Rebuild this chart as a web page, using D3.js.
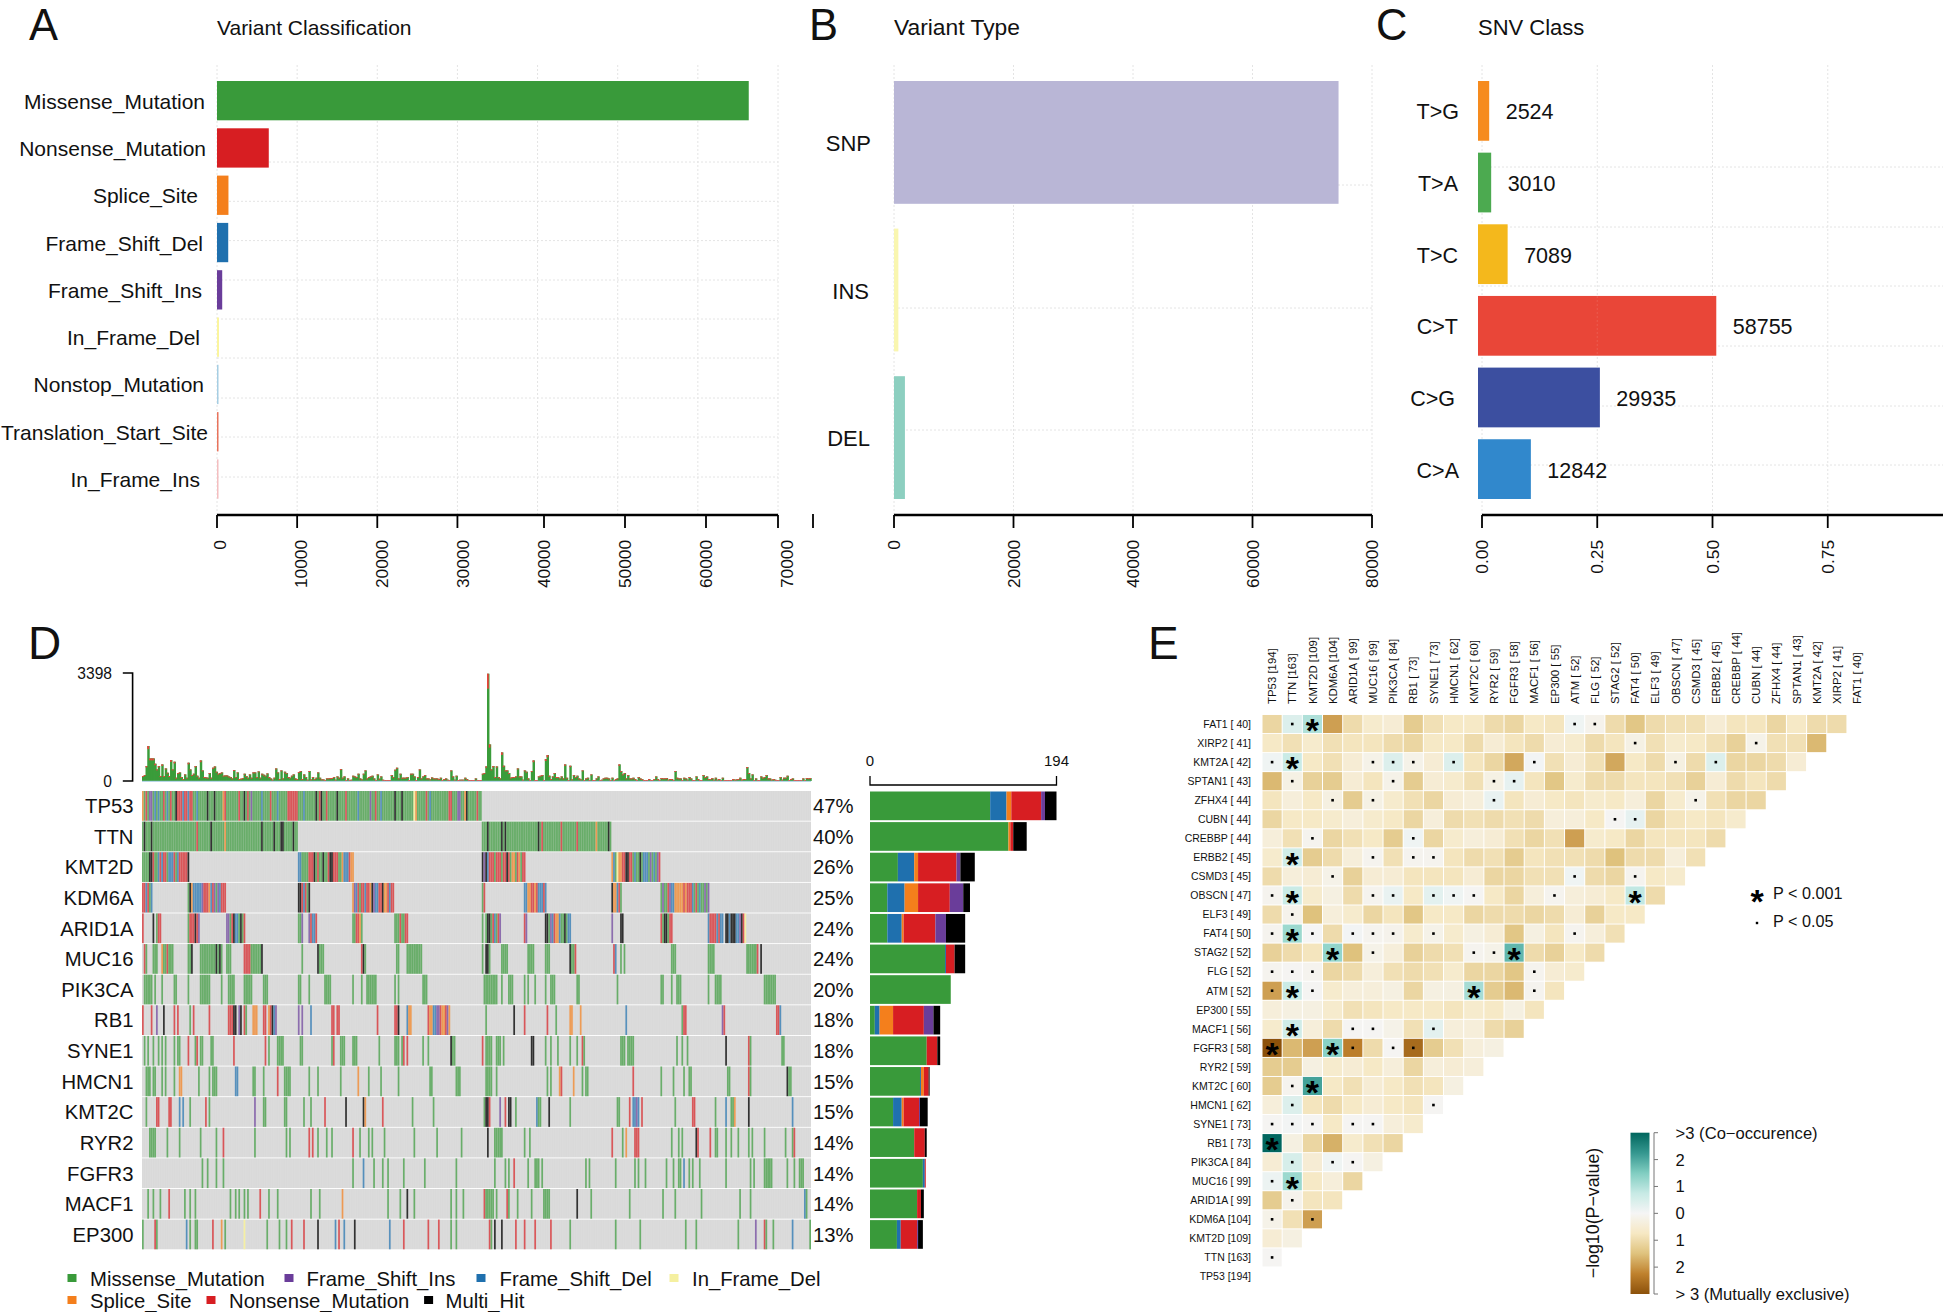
<!DOCTYPE html>
<html><head><meta charset="utf-8">
<script src="https://cdn.jsdelivr.net/npm/d3@7"></script>
<style>
html,body{margin:0;padding:0;background:#fff}
svg{display:block}
text{font-family:"Liberation Sans",Arial,sans-serif;fill:#111}
</style></head><body><svg id="c" width="1946" height="1312"></svg>
<script>
/* ---------- A: variant classification ---------- */
const classNames=["Missense_Mutation","Nonsense_Mutation","Splice_Site","Frame_Shift_Del","Frame_Shift_Ins","In_Frame_Del","Nonstop_Mutation","Translation_Start_Site","In_Frame_Ins"];
const classValues=[66350,6460,1430,1400,650,250,130,130,100];
const classTicks=[0,10000,20000,30000,40000,50000,60000,70000];
/* ---------- B: variant type ---------- */
const typeNames=["SNP","INS","DEL"];
const typeValues=[74400,730,1830];
const typeTicks=[0,20000,40000,60000,80000];
/* ---------- C: SNV class ---------- */
const snvNames=["T>G","T>A","T>C","C>T","C>G","C>A"];
const snvCounts=[2524,3010,7089,58755,29935,12842];
const snvFractions=[0.0221,0.0264,0.0621,0.5147,0.2622,0.1125];
const snvTicks=[0,0.25,0.5,0.75];
/* ---------- D: oncoplot ---------- */
const onco_genes=["TP53","TTN","KMT2D","KDM6A","ARID1A","MUC16","PIK3CA","RB1","SYNE1","HMCN1","KMT2C","RYR2","FGFR3","MACF1","EP300"];
const onco_pct=["47%","40%","26%","25%","24%","24%","20%","18%","18%","15%","15%","14%","14%","14%","13%"];
const sampleCount=382;
/* sample burden, read in zoom pixels, 324 of them = 3398 mutations */
const burdenRead=[15,18,45,105,68,68,68,52,35,45,15,50,15,38,25,15,63,35,58,10,24,26,12,6,20,10,55,35,18,22,45,16,10,62,32,12,11,10,24,10,40,44,28,22,24,26,16,17,17,14,12,8,33,12,26,6,7,9,22,15,10,20,10,26,26,12,29,10,22,19,16,23,12,8,4,10,38,26,6,32,8,28,24,12,10,16,20,8,6,27,30,6,20,12,4,30,5,12,6,10,26,10,5,5,3,8,8,9,9,12,4,14,10,36,10,14,3,8,3,4,16,14,12,22,8,5,22,32,8,12,14,16,8,3,20,7,14,4,3,3,3,3,18,12,34,40,8,22,10,10,10,12,3,22,22,14,3,12,35,8,14,18,8,8,5,11,8,8,8,6,10,3,6,8,4,3,32,14,4,16,3,4,4,4,10,6,3,3,3,3,
8,3,3,3,22,24,44,322,110,35,45,12,44,12,8,86,46,32,32,24,10,12,12,14,38,14,14,4,32,28,8,3,30,62,3,3,14,16,18,3,66,78,16,6,14,24,12,12,8,14,8,50,10,3,46,5,18,12,16,8,5,32,3,8,10,3,20,3,3,8,14,3,4,8,10,10,8,3,10,3,6,8,50,30,20,24,8,18,8,8,10,6,3,12,8,6,3,3,3,6,3,3,6,14,6,3,9,8,8,9,4,6,6,3,30,10,8,8,3,10,8,4,12,8,3,3,14,6,3,3,18,12,14,6,6,9,4,10,4,6,3,10,3,3,3,3,3,6,4,5,6,10,4,6,6,42,24,8,20,3,8,3,3,14,10,12,18,8,8,4,6,4,3,3,12,4,10,10,16,3,6,8,3,3,3,3,3,8,3,9,8,9];
const burdenMax=3398;
/* cells per gene: type letter + sample index or index range; later entries overwrite earlier ones.
   M missense, N nonsense, S splice, D frameshift del, I frameshift ins, F in-frame del, H multi-hit */
const row_TP53="M0-193 S0 N2 I4-5 D7 D9 N12 D14 N16 H19 N20-22 D23 N24-25 D26 N27-28 D31 H37 H41 S46 N47 N55 H58 N60 I62 D68 N73 D77 N83-88 D92 H99 N101 H102 N105 H111 N116 D123 I130 N133 D136 H144 H148 F155 S156 N162 D164 N175-176 I180-181 S184 H185 N191";
const row_TTN="M0-88 H1 H5 N31 H39 S47 H68 H75 H79-80 H86 M194-267 H197 H205 H207 H226 N228 N239 N248 S259 H266";
const row_KMT2D="M0-26 H4-5 N6 D9 N10 D11 N12-13 D15-17 N18 D20 N21-25 H26 M89-120 D89-90 N95-97 H98 N100 H103 N106 H107-108 N109-111 S114 D115-117 N118 S119-120 M194-218 H194 I195 H196 D197 N198-200 N202-204 N206-207 H208 N209 S211-212 N214 S215 N217-218 M268-295 S268 D269 F271 S272-273 N274-275 H276-277 N278-279 D281 H284 D286-288 I290 D292 I294 N295";
const row_KDM6A="N0-1 D2 N3 M4 D5 M26 H27 S28 D29-33 I34 N35-37 S38 D39 N40 I41 M42 I43 D44 N45-47 H89-90 N91 D92 N93 M94 H95 M120-143 S120 I121 D122 N123 N125-126 D127 N128-129 S130 H131 I132 D133-134 N135-136 H137 S138-139 N140 D141 N142-143 M194 N195 D218-219 S220-221 N222-223 S224 N225 D226-228 N229 D230 H268 S269-270 D271 N272 M273 M296-323 I297 N300 I301 D302-303 S304-308 N309 S310 N311-313 D314 N316 D318 I321 I323";
const row_ARID1A="N0 H6 M8 N9-10 M26 N27-29 H30 N31 I32 I48-49 M50 N51 H52 D53-54 M55 H56 M57 N58 M89-90 I91 I95 N96 D97-98 N99 M120-121 N122-123 S124 M125 M144-146 N147 M148-149 N150-151 M194 M196 H197-198 M199 N200 D201 M202 N203 I204 N218 I219 H230-231 M232 I233 D234 N235 S236-237 D238 M239 M240 H241 M242 D243-244 I268 H273-274 N296 M297 H298-299 M300 N301-302 D323 N324-327 D328 N329 D330-331 H333-334 D335 H336-338 D339-340 I341 H342 N343 F344";
const row_MUC16="N1 M2 M6-8 S11 M12-17 N14 M26-27 H28 M33-45 H42 H44 M48-50 N58-61 M62-67 H68 M91 H100 M101-103 N125 H126 M127 M145-146 M151-159 M194 H196-197 M198 M205-208 M220-223 M230-232 H244 M245-246 N247 N269 D270 M273 M275 M302-304 M323-326 M345-350 N351 H353";
const row_PIK3CA="M1-5 M7 M11 M18-19 M26 M33-38 M45 M49 M50-52 M58-62 M69-71 M89-90 M95 M104-107 M120 M125 M128-133 M144 M146 M160-162 M195-202 M205 M209-211 M218 M220 M224 M230 M233-235 M248-249 M271 M296-297 M302 M305-307 M323 M327-330 M355-361";
const row_RB1="N0 N5 I8 H12 N18 N20 M27 N29 N38 N49-50 N51 H52-53 I55 H56 N58 M59 S63-65 N69-70 S72 N73 H74 D75 I76 I89 I91 D96 N108-109 N111-112 N134 N144-145 H146 D151 S152-153 N163 S164-165 D166-167 I168-169 N170 S171-172 N173 I174 S175 M196 H212 N218 N231 M236 S244-245 S250 D276 M308 N309-310 I331 N332 N362-363 D364";
const row_SYNE1="M1 M3 M6 M9 M11 M13 M18 M20-21 N26 M30 N31 M33-34 M39-40 N52 N70 M72 M77-80 M90-91 M108 N109 M113-115 M120-122 M135 M144-146 M148 N149 N151 M160 M163 H176 M177-178 N194 M196-199 M202-204 M206 H222-223 M230 M233 M237 M244 M248 N251 M252 M273-275 M277-280 M305 M308 M311 H333 N346 M347 M365-366";
const row_HMCN1="M2-4 M6-7 M11 M13 M18 S21-22 M32 M38 M40-42 D53-54 M63-64 M69 N77 M81-84 M95 M100 M113 S123 M129 M136 M146 M164-165 M179-181 M196-199 M202 M231 M233 S238 N239 M246 S246 M251 M253-254 N280 M296 M303 M309 M312-313 M334-335 N346 M347 H368 M369-370";
const row_KMT2C="M2 N8 N9 N15-16 D21 D23 M27 N36 M38 I64 M69-70 M81-82 M92 M96 N104 H116 H126 S127 N137 M154 M166 M195 H196-197 N198 I204 N207 H209-210 M213 D225 M226-227 H232 M244 M271-272 N278 D280-281 I282 D283 N285 M304 N314-315 M327 D333 M336-337 S338 H346 D371";
const row_RYR2="M4-7 M14 M21 M33 M42 N46 M64 M82 M84 N95 N97 M100 M105 M108 N120 M124 M129 M131 M138 M155 M168 M182 H197 M201 M202-204 M205 M218 M221 N268 M274 S276 N281-283 M302 M306 M308 H316 N317 N324 M327-328 M333 M336 M340 M346 M348 M355 M367 M371 N372";
const row_FGFR3="M34 M37 M42 M46 M120 D126 M132 M137 M140 M149 M161 M179 M201 M207 M209 N212 M220 M224-226 M228 M253 M255 M270 M281 M283 M287 M299 M303 M306 M307 D309 M312 M314 M318 M333 M347 M349 M355-359 M368 M372 M375-377";
const row_MACF1="M3 M6 M10 N15 M24 M27 M30 M50 M53 M55 M58 M60 N67 M72 M77 M96 M101 S114 M140 M147 H151 M155 M176 M179 M183 N195 M196-200 M202 N208 M209 M214 M222 M229-232 H248 M256 M278 M297 M304 M319 M341 M347 D378 M379";
const row_EP300="M0 N7 M8 D25 M27 M30-31 N40 S45 M47 F58 M71 M78 M82 N85 N92 H100 D110 N112 D115 H121 D141 N149 N163 N169 M176 M179 N198 M199 H201 H205 N213 N218 N224 N233 M244 M270 M284 M310 M316 M340 I350 N355 M356 M360 D371 M381";
const onco_rows=[row_TP53,row_TTN,row_KMT2D,row_KDM6A,row_ARID1A,row_MUC16,row_PIK3CA,row_RB1,row_SYNE1,row_HMCN1,row_KMT2C,row_RYR2,row_FGFR3,row_MACF1,row_EP300];
/* gene totals by type, in stacking order */
const stackOrder=["M","D","S","N","I","H"];
const stack_TP53=[125,17,5,31,4,12], stack_TTN=[144,0,2,3,0,14], stack_KMT2D=[29,17,4,40,4,15], stack_KDM6A=[18,18,14,33,14,7], stack_ARID1A=[18,15,2,33,11,20], stack_MUC16=[78,1,0,9,0,11], stack_PIK3CA=[84,0,0,0,0,0], stack_RB1=[5,5,14,32,10,7], stack_SYNE1=[59,0,0,11,0,3], stack_HMCN1=[52,1,3,5,0,1], stack_KMT2C=[24,9,2,16,1,8], stack_RYR2=[46,0,0,11,0,2], stack_FGFR3=[55,2,0,1,0,0], stack_MACF1=[49,0,0,4,0,3], stack_EP300=[28,4,0,17,1,5];
const stacks=[stack_TP53,stack_TTN,stack_KMT2D,stack_KDM6A,stack_ARID1A,stack_MUC16,stack_PIK3CA,stack_RB1,stack_SYNE1,stack_HMCN1,stack_KMT2C,stack_RYR2,stack_FGFR3,stack_MACF1,stack_EP300];
const stackMax=194;
/* ---------- E: somatic interactions ---------- */
const heatColumns=["TP53 [194]","TTN [163]","KMT2D [109]","KDM6A [104]","ARID1A [ 99]","MUC16 [ 99]","PIK3CA [ 84]","RB1 [ 73]","SYNE1 [ 73]","HMCN1 [ 62]","KMT2C [ 60]","RYR2 [ 59]","FGFR3 [ 58]","MACF1 [ 56]","EP300 [ 55]","ATM [ 52]","FLG [ 52]","STAG2 [ 52]","FAT4 [ 50]","ELF3 [ 49]","OBSCN [ 47]","CSMD3 [ 45]","ERBB2 [ 45]","CREBBP [ 44]","CUBN [ 44]","ZFHX4 [ 44]","SPTAN1 [ 43]","KMT2A [ 42]","XIRP2 [ 41]","FAT1 [ 40]"];
const heatRows=heatColumns.slice().reverse();
/* signed -log10(P): positive co-occurrence, negative mutual exclusivity; top row first */
const heatValues=[
[-1.1,.4,1.0,-1.9,-1,-.6,-.5,-1.3,-.9,-.7,-.7,-1,-1.1,-.7,-.8,.1,-.15,-1,-1.4,-1,-.9,-.9,-.5,-.8,-.8,-1.1,-.7,-1,-1],
[-.7,-.9,-.6,-.9,-.8,-.8,-1,-1.1,-.7,-.7,-1,-.5,-.8,-1,-.5,-.6,-1,-.8,-.25,-.9,-.6,-.7,-.9,-1.2,-.2,-.9,-.9,-1.6],
[.1,.7,-.7,-.9,-.5,-.2,.4,-.2,-.5,.4,-.8,-1.1,-1.8,.05,-.9,-.5,-.9,-1.8,-.7,-1,-.3,-1,.4,-1.1,-1.1,-1,-.5],
[-1.6,-.25,-1.2,-1.3,-.5,-.8,-.2,-1.3,-.5,-.6,-.9,-.25,.25,-.8,-1.4,-.6,-1,-1,-.8,-.8,-.9,-1.2,-.5,-1,-.8,-1],
[-.8,-.4,-.7,-.3,-1.3,-.25,-.6,-.9,-1.1,-.5,-.4,.2,-.8,-.5,-.7,-.8,-.6,-.7,-.4,-1.1,-.6,-.2,-.9,-1.1,-1.1],
[-1.1,-.7,-.7,-.6,-.4,-.6,-.7,-1.1,-.4,-1,-.9,-1,-.9,-1,-.4,-.4,-.7,-.05,.25,-1.1,-.8,-.7,-.8,-.6],
[-.4,-.9,-.1,-1.1,-.9,-.7,-1.3,.1,-1.1,-.6,-.4,-.5,-.9,-1.1,-.9,-1.9,-.6,-.7,-1.1,-.8,-.8,-.8,-1],
[-.6,.6,-1.3,-1,-.4,-.1,-.9,-.1,-.1,-.8,-1,-.9,-1.3,-.8,-.9,-.9,-1,-1.5,-1,-1,-.4,-.9],
[-1,-.4,-.5,-.2,-1.2,-.5,-.5,-.8,-.8,-.8,-.5,-1.1,-1.1,-.9,-.9,.1,-1,-1.1,-.1,-.7,-.6],
[-.1,.7,-.6,-.3,-1,-.1,.2,-.7,.3,.1,-.05,-.7,-1.1,-.4,-.1,-.4,-.5,-.7,.8,-1],
[-1,-.15,-1.5,-.4,-.6,-1.1,-.8,-1.4,-.7,-.7,-1.1,-1,-1,-1.1,-1,-.5,-1.2,-.7,-.7],
[-.1,1.2,0,-1,.05,-.1,-.15,-.6,-.2,-.6,-.3,-.5,-1.4,-.3,-.8,-.1,-.4,-.9],
[-1.2,-1,-.8,1.3,-1.5,-.2,-.4,-1.2,-1,-.9,-.1,-.2,1.8,-1,-1.2,-.7,-1],
[-.1,-.05,-.1,-1.1,-1,-.4,-.9,-1,-.9,-.6,-1.1,-1.1,-1.4,-.1,-.5,-.6],
[-1.9,.7,-.05,-.6,-.4,-.4,-.3,-1.1,-.3,-.3,1.1,-1.3,-1.6,-.1,-.8],
[-.4,-.3,-.3,-.6,-.9,-.8,-.7,-.7,-.7,-.8,-.6,-.7,-.3,-.8],
[-.6,.6,-.4,-1,-.05,-.05,-.2,-.9,.3,-.4,-.4,-1,-1.2],
[-3,-1.6,-1.9,1.4,-2.3,-1,-.05,-2.6,-1.3,-.9,-.4,-.3],
[-1.3,-1.3,-.3,-.6,-.5,-.7,-.4,-1.1,-.4,-.5,-.4],
[-1.3,-.1,2.1,-.7,-.9,-.5,-.7,-.9,-.8,-.3],
[-.4,.4,-.8,-1,-.7,-.5,-.7,-.8,-.05],
[-.05,.05,-.05,-.7,-.05,-.05,-.4,-.6],
[3,-.3,-1.1,-1.7,-.6,-.9,-1.1],
[-.5,.5,-.5,.1,-.05,-.3],
[.15,1.2,-.7,-.4,-1.1],
[-1.3,-.15,-.8,-.8],
[-.2,-.9,-1.9],
[-.5,-.3],
[-.05]];
/* [row index, column indexes] */
const starCells=[[0,[2]],[2,[1]],[7,[1]],[9,[1,18]],[11,[1]],[12,[3,12]],[14,[1,10]],[16,[1]],[17,[0,3]],[19,[2]],[22,[0]],[24,[1]]];
const dotCells=[[0,[1,15,16]],[1,[18,24]],[2,[0,5,6,7,9,13,20,22]],[3,[1,6,11,12]],[4,[3,5,11,21]],[5,[17,18]],[6,[2,7]],[7,[5,7,8]],[8,[3,15,18]],[9,[0,5,6,8,9,10,14]],[10,[1]],[11,[0,2,4,5,6,8,15]],[12,[5,10,11]],[13,[0,1,2,13]],[14,[0,2,13]],[16,[4,5,8]],[17,[4,6,7]],[19,[1]],[20,[1,8]],[21,[0,1,2,4,5]],[23,[1,3,4]],[24,[0]],[25,[1]],[26,[0,2]],[28,[0]]];
const heatLegendLabels=[">3 (Co\u2212occurence)","2","1","0","1","2","> 3 (Mutually exclusive)"];
const heatLegendValues=[3,2,1,0,-1,-2,-3];

const variantColors={Missense_Mutation:"#399A3A",Nonsense_Mutation:"#D71E22",Splice_Site:"#F47F1C",Frame_Shift_Del:"#1F70AE",Frame_Shift_Ins:"#6A3D9A",In_Frame_Del:"#FBF59E",Nonstop_Mutation:"#A6CEE3",Translation_Start_Site:"#E8735C",In_Frame_Ins:"#F4BEC0"};
const typeColors=["#B9B6D6","#F9F6B0","#8DCFC0"];
const snvColors=["#F68B1E","#4CAA50","#F4B81C","#E94638","#3C4FA0","#3188CC"];
const cellColors={M:"#399A3A",N:"#D71E22",S:"#F47F1C",D:"#1F70AE",I:"#6A3D9A",F:"#FFF68A",H:"#000000"};

const svg=d3.select("#c");
const grid="#e4e4e4";

function letter(t,x,y,fs){svg.append("text").attr("x",x).attr("y",y).attr("font-size",fs).text(t);}
function title(t,x,fs){svg.append("text").attr("x",x).attr("y",35).attr("font-size",fs).text(t);}
function vgrid(g,xs){g.selectAll(null).data(xs).join("line").attr("x1",d=>d).attr("x2",d=>d).attr("y1",65).attr("y2",515).attr("stroke",grid).attr("stroke-dasharray","2 2");}
function hgrid(g,ys,x1,x2){g.selectAll(null).data(ys).join("line").attr("x1",x1).attr("x2",x2).attr("y1",d=>d).attr("y2",d=>d).attr("stroke",grid).attr("stroke-dasharray","2 2");}
function hAxis(x1,x2,tickXs,labels){
  const g=svg.append("g");
  g.append("line").attr("x1",x1).attr("x2",x2).attr("y1",515).attr("y2",515).attr("stroke","#000").attr("stroke-width",2.6);
  g.selectAll("line.t").data(tickXs).join("line").attr("class","t").attr("x1",d=>d).attr("x2",d=>d).attr("y1",515).attr("y2",528).attr("stroke","#000").attr("stroke-width",1.8);
  g.selectAll("text").data(labels).join("text").attr("text-anchor","end").attr("font-size",17.3).attr("dy",".36em")
    .attr("transform",d=>`translate(${d.x},540) rotate(-90)`).text(d=>d.t);
}

/* ---- A ---- */
letter("A",29,39.5,43.5);title("Variant Classification",217,21);
const xA=d3.scaleLinear().domain([0,70000]).range([217,778]);
const xALab=d3.scaleLinear().domain([0,70000]).range([220,787]);
const yA=d3.scaleBand().domain(classNames).range([81,498.7]).paddingInner(.169).paddingOuter(0);
const gA=svg.append("g");
vgrid(gA,classTicks.map(xA));
hgrid(gA,[162,201.3,240.6,280,319,358,398,437,477],217,778);
gA.selectAll("rect").data(classNames).join("rect").attr("x",xA(0)).attr("y",d=>yA(d)).attr("height",yA.bandwidth())
  .attr("width",(d,i)=>Math.max(1.5,xA(classValues[i])-xA(0))).attr("fill",d=>variantColors[d]);
const classLabelEnd=[205,206,198,203,202,200,204,208,200];
gA.selectAll("text").data(classNames).join("text").attr("text-anchor","end").attr("font-size",21)
  .attr("x",(d,i)=>classLabelEnd[i]).attr("y",d=>yA(d)+yA.bandwidth()/2).attr("dy",".38em").text(d=>d);
hAxis(217,778,classTicks.map(v=>(v>=40000&&v<70000)?xALab(v):xA(v)),classTicks.map(v=>({x:xALab(v),t:v})));

/* ---- B ---- */
letter("B",809,39.5,43.5);title("Variant Type",894,22.8);
const xB=d3.scaleLinear().domain([0,80000]).range([894,1372]);
const yB=d3.scaleBand().domain(typeNames).range([81,499]).paddingInner(.168).paddingOuter(0);
const gB=svg.append("g");
vgrid(gB,typeTicks.map(xB));
hgrid(gB,[185,308,430],894,1372);
gB.selectAll("rect").data(typeNames).join("rect").attr("x",xB(0)).attr("y",d=>yB(d)).attr("height",yB.bandwidth())
  .attr("width",(d,i)=>xB(typeValues[i])-xB(0)).attr("fill",(d,i)=>typeColors[i]);
const typeLabelEnd=[871,869,870];
gB.selectAll("text").data(typeNames).join("text").attr("text-anchor","end").attr("font-size",22)
  .attr("x",(d,i)=>typeLabelEnd[i]).attr("y",d=>yB(d)+yB.bandwidth()/2).attr("dy",".4em").text(d=>d);
hAxis(894,1372,typeTicks.map(xB),typeTicks.map(v=>({x:xB(v),t:v})));
svg.append("line").attr("x1",813).attr("x2",813).attr("y1",514).attr("y2",528).attr("stroke","#000").attr("stroke-width",1.8);

/* ---- C ---- */
letter("C",1376,39.5,43.5);title("SNV Class",1478,22);
const xC=d3.scaleLinear().domain([0,1]).range([1482,1943]);
const barShift=-4;
const yC=d3.scaleBand().domain(snvNames).range([81,499]).paddingInner(.166).paddingOuter(0);
const gC=svg.append("g");
vgrid(gC,snvTicks.map(xC));
hgrid(gC,[167,227,286,346,406,465],1478,1943);
gC.selectAll("rect").data(snvNames).join("rect").attr("x",xC(0)+barShift).attr("y",d=>yC(d)).attr("height",yC.bandwidth())
  .attr("width",(d,i)=>xC(snvFractions[i])-xC(0)+1).attr("fill",(d,i)=>snvColors[i]);
gC.selectAll("line.over").data(snvTicks.slice(1,2)).join("line").attr("class","over").attr("x1",xC).attr("x2",xC).attr("y1",yC("C>T")).attr("y2",yC("C>T")+yC.bandwidth()).attr("stroke","#fff").attr("stroke-opacity",.12).attr("stroke-dasharray","2 2");
const snvLabelEnd=[1459,1458,1458,1458,1455,1459];
gC.selectAll("text.n").data(snvNames).join("text").attr("class","n").attr("text-anchor","end").attr("font-size",21.5)
  .attr("x",(d,i)=>snvLabelEnd[i]).attr("y",d=>yC(d)+yC.bandwidth()/2).attr("dy",".4em").text(d=>d);
gC.selectAll("text.v").data(snvNames).join("text").attr("class","v").attr("font-size",21.5)
  .attr("x",(d,i)=>xC(snvFractions[i])+barShift+17.5).attr("y",d=>yC(d)+yC.bandwidth()/2).attr("dy",".4em").text((d,i)=>snvCounts[i]);
hAxis(1482,1943,snvTicks.map(xC),snvTicks.map(v=>({x:xC(v),t:v.toFixed(2)})));

/* ---- D ---- */
letter("D",28,659,46);
const xM=d3.scaleBand().domain(d3.range(sampleCount)).range([142,811]);
const yM=d3.scaleBand().domain(onco_genes).range([791,1249.3]).paddingInner(.03).paddingOuter(0);
const gD=svg.append("g");
function parseRow(s){const m=new Map();s.split(" ").forEach(tok=>{const r=tok.match(/^([A-Z])(\d+)(?:-(\d+))?$/);const a=+r[2],b=r[3]?+r[3]:a;for(let i=a;i<=b;i++)m.set(i,r[1]);});return m;}
onco_genes.forEach((gene,gi)=>{
  const row=gD.append("g");
  row.append("rect").attr("x",xM.range()[0]).attr("width",xM.range()[1]-xM.range()[0]).attr("y",yM(gene)).attr("height",yM.bandwidth()).attr("fill","#D9D9D9");
  row.selectAll("rect.c").data(Array.from(parseRow(onco_rows[gi]))).join("rect").attr("class","c")
    .attr("x",d=>xM(d[0])).attr("width",xM.bandwidth()).attr("y",yM(gene)).attr("height",yM.bandwidth())
    .attr("fill",d=>cellColors[d[1]]).attr("fill-opacity",d=>d[1]=="H"?.8:.72);
  row.selectAll("line").data(d3.range(sampleCount)).join("line").attr("x1",d=>xM(d)).attr("x2",d=>xM(d)).attr("y1",yM(gene)).attr("y2",yM(gene)+yM.bandwidth()).attr("stroke","#fff").attr("stroke-opacity",.16).attr("stroke-width",.5);
  gD.append("text").attr("text-anchor","end").attr("x",133.5).attr("y",yM(gene)+yM.bandwidth()/2).attr("dy",".36em").attr("font-size",20.3).text(gene);
  gD.append("text").attr("x",813).attr("y",yM(gene)+yM.bandwidth()/2).attr("dy",".36em").attr("font-size",20.3).text(onco_pct[gi]);
});
/* top burden bars */
const burden=burdenRead.map(v=>v*burdenMax/324);
const xTop=d3.scaleBand().domain(d3.range(burden.length)).range([142,811]);
const yTop=d3.scaleLinear().domain([0,burdenMax]).range([781,673]);
const gTop=svg.append("g");
const nonsenseShare=0.09;
gTop.selectAll("rect.g").data(burden).join("rect").attr("class","g").attr("x",(d,i)=>xTop(i)).attr("width",xTop.bandwidth()+.7).attr("y",d=>yTop(d)).attr("height",d=>yTop(0)-yTop(d)).attr("fill","#3A9C3A");
gTop.selectAll("rect.r").data(burden).join("rect").attr("class","r").attr("x",(d,i)=>xTop(i)).attr("width",xTop.bandwidth()).attr("y",d=>yTop(d)).attr("height",d=>Math.max(1,(yTop(0)-yTop(d))*(d>1500?0.14:nonsenseShare))).attr("fill","#E8433C");
gTop.append("line").attr("x1",142).attr("x2",811).attr("y1",781.3).attr("y2",781.3).attr("stroke","#A6CEE3").attr("stroke-width",1);
gTop.append("path").attr("d",d3.line()([[122.8,yTop(burdenMax)],[132.6,yTop(burdenMax)],[132.6,yTop(0)],[122.8,yTop(0)]])).attr("fill","none").attr("stroke","#000").attr("stroke-width",1.6);
gTop.selectAll("text").data([burdenMax,0]).join("text").attr("text-anchor","end").attr("x",112).attr("y",d=>yTop(d)).attr("dy",".36em").attr("font-size",15.6).text(d=>d);
/* right stacked bars */
const xS=d3.scaleLinear().domain([0,stackMax]).range([870,1056.5]);
const gS=svg.append("g");
onco_genes.forEach((gene,gi)=>{
  let acc=0;
  stacks[gi].forEach((v,k)=>{
    gS.append("rect").attr("x",xS(acc)).attr("width",xS(acc+v)-xS(acc)).attr("y",yM(gene)+.5).attr("height",yM.bandwidth()-1).attr("fill",cellColors[stackOrder[k]]);
    acc+=v;
  });
});
gS.append("path").attr("d",d3.line()([[xS(0),776],[xS(0),785],[xS(stackMax),785],[xS(stackMax),776]])).attr("fill","none").attr("stroke","#000").attr("stroke-width",1.3);
gS.selectAll("text").data([0,stackMax]).join("text").attr("text-anchor","middle").attr("x",d=>xS(d)).attr("y",761).attr("dy",".36em").attr("font-size",15).text(d=>d);
/* legend */
const legendItems=[["Missense_Mutation","M",72,90,1278],["Frame_Shift_Ins","I",289,306.6,1278],["Frame_Shift_Del","D",481,499.5,1278],["In_Frame_Del","F",674,692,1278],["Splice_Site","S",72,90,1300],["Nonsense_Mutation","N",211,229,1300],["Multi_Hit","H",428.6,445.5,1300]];
const gL=svg.append("g");
gL.selectAll("rect").data(legendItems).join("rect").attr("x",d=>d[2]-4.5).attr("y",d=>d[4]-4).attr("width",9).attr("height",8).attr("fill",d=>d[1]=="F"?"#F5F0A0":cellColors[d[1]]);
gL.selectAll("text").data(legendItems).join("text").attr("x",d=>d[3]).attr("y",d=>d[4]).attr("dy",".38em").attr("font-size",20.3).text(d=>d[0]);

/* ---- E ---- */
letter("E",1148,659,46);
const xH=d3.scaleBand().domain(heatColumns).range([1262,1262+20.17*30]).paddingInner(.05).paddingOuter(.025);
const yH=d3.scaleBand().domain(heatRows).range([714.5,714.5+19.05*30]).paddingInner(.05).paddingOuter(.025);
const heatColor=d3.scaleLinear().domain([-3,-2.25,-1.5,-.75,0,.75,1.5,2.25,3]).range(["#8C510A","#BF812D","#DFC27D","#F6E8C3","#F5F5F5","#C7EAE5","#80CDC1","#35978F","#01665E"]);
const gH=svg.append("g");
heatValues.forEach((vals,r)=>{
  gH.selectAll(null).data(vals).join("rect").attr("x",(d,c)=>xH(heatColumns[c])).attr("y",yH(heatRows[r])).attr("width",xH.bandwidth()).attr("height",yH.bandwidth()).attr("fill",d=>heatColor(d));
});
gH.selectAll("text.col").data(heatColumns).join("text").attr("class","col").attr("font-size",11.4).attr("dy",".36em")
  .attr("transform",d=>`translate(${xH(d)+xH.bandwidth()/2},704) rotate(-90)`).text(d=>d);
gH.selectAll("text.row").data(heatRows).join("text").attr("class","row").attr("font-size",10.5).attr("text-anchor","end").attr("dy",".36em")
  .attr("x",1251).attr("y",d=>yH(d)+yH.bandwidth()/2).text(d=>d);
function star(x,y,fs){svg.append("text").attr("x",x).attr("y",y).attr("text-anchor","middle").attr("font-size",fs).attr("font-weight","bold").attr("dy",".54em").style("fill","#000").text("*");}
starCells.forEach(([r,cs])=>cs.forEach(c=>star(xH(heatColumns[c])+xH.bandwidth()/2,yH(heatRows[r])+yH.bandwidth()/2,34)));
dotCells.forEach(([r,cs])=>cs.forEach(c=>{
  gH.append("rect").attr("x",xH(heatColumns[c])+xH.bandwidth()/2-1.3).attr("y",yH(heatRows[r])+yH.bandwidth()/2-1.3).attr("width",2.6).attr("height",2.6).attr("fill","#000");
}));
star(1757,895,34);
svg.append("rect").attr("x",1755.8).attr("y",921.8).attr("width",2.4).attr("height",2.4).attr("fill","#000");
svg.append("text").attr("x",1773).attr("y",893).attr("dy",".36em").attr("font-size",16.2).text("P < 0.001");
svg.append("text").attr("x",1773).attr("y",921).attr("dy",".36em").attr("font-size",16.2).text("P < 0.05");
/* colour bar */
const yBar=d3.scaleLinear().domain([3,-3]).range([1132.7,1294]);
const defs=svg.append("defs");
const lg=defs.append("linearGradient").attr("id","bar").attr("x1",0).attr("x2",0).attr("y1",0).attr("y2",1);
d3.range(3,-3.01,-.25).forEach(v=>lg.append("stop").attr("offset",(3-v)/6).attr("stop-color",heatColor(v)));
svg.append("rect").attr("x",1630.5).attr("y",yBar(3)).attr("width",19).attr("height",yBar(-3)-yBar(3)).attr("fill","url(#bar)");
const gBar=svg.append("g");
gBar.append("line").attr("x1",1654).attr("x2",1654).attr("y1",yBar(3)).attr("y2",yBar(-3)).attr("stroke","#777");
gBar.selectAll("line.t").data(heatLegendValues).join("line").attr("class","t").attr("x1",1654).attr("x2",1658).attr("y1",yBar).attr("y2",yBar).attr("stroke","#777");
gBar.selectAll("text").data(heatLegendValues).join("text").attr("x",1675.6).attr("y",yBar).attr("dy",".36em").attr("font-size",16.6).text((d,i)=>heatLegendLabels[i]);
svg.append("text").attr("text-anchor","middle").attr("font-size",17.8).attr("dy",".36em").attr("transform","translate(1593,1213) rotate(-90)").text("\u2212log10(P\u2212value)");
</script></body></html>
